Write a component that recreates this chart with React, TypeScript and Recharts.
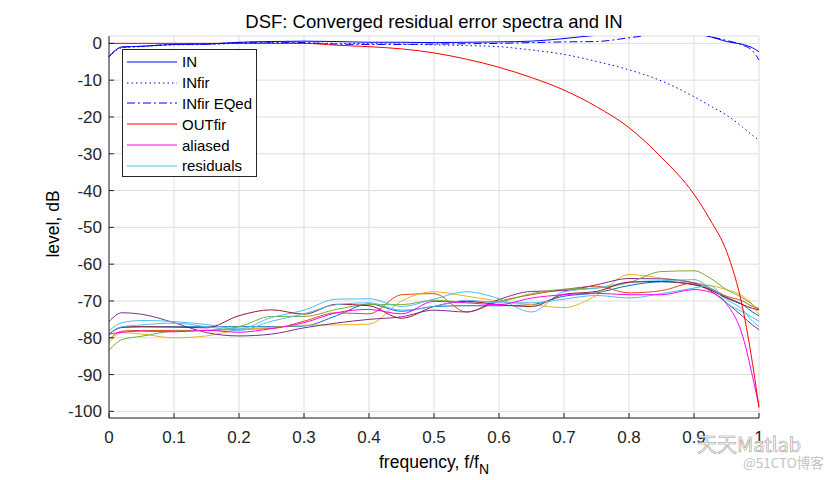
import React from 'react';
import { LineChart, Line, XAxis, YAxis, CartesianGrid, Legend, Label } from 'recharts';

// normalised frequency grid (f / fN)
const freq = [0, 0.02, 0.05, 0.1, 0.15, 0.2, 0.25, 0.3, 0.35, 0.4, 0.45, 0.5, 0.55, 0.6, 0.65, 0.7, 0.75, 0.8, 0.85, 0.9, 0.925, 0.95, 0.975, 0.99, 1];

// levels in dB
const inLevel = [-3.6, -1, -0.8, -0.3, -0.2, 0.3, 0.5, 0.6, 0.5, 0.3, 0.3, 0.2, 0.3, 0.4, 0.6, 1.3, 2.2, 2.5, 2.5, 2.5, 1.8, 0.5, -0.3, -1.2, -2.3];
const inFir = [-3.6, -1.2, -0.9, -0.4, -0.3, 0, 0.1, 0.1, 0, -0.1, -0.2, -0.4, -0.6, -0.9, -1.8, -3, -4.9, -7.2, -10.2, -14.5, -17, -19.5, -22.8, -25, -26.3];
const inFirEq = [-3.6, -1, -0.8, -0.3, -0.2, 0.2, 0.3, 0.2, -0.2, -0.3, -0.3, -0.2, -0.1, 0, 0.2, 0.4, 0.5, 1.5, 2.5, 2.5, 1.8, 0.8, -0.5, -2, -4.5];
const outFir = [0, 0, 0, 0, 0, 0, 0, 0, -0.5, -0.9, -1.5, -2.6, -4.3, -6.5, -9.3, -12.7, -17.2, -22.9, -31, -41, -48, -56.5, -72, -87, -99];
const aliased = [-79, -78.5, -78.2, -78.4, -78, -78.5, -77.5, -75.9, -73.2, -72.3, -73.5, -70.1, -70.5, -71, -69.2, -68.3, -67.9, -68.3, -68.3, -66.9, -67.6, -70.8, -79.6, -90.5, -98.6];

// residual error spectra, one per converged run
const resBlue = [-79, -77.2, -77, -77, -77, -77, -77, -76.8, -74, -70.8, -72.8, -71.5, -71.3, -71.3, -71, -68.7, -67.8, -65.8, -64.8, -65.5, -66.8, -69, -71, -73, -74];
const resOrange = [-80.5, -78.2, -78, -78, -78, -77.7, -77.5, -75.5, -73.2, -73.5, -68.3, -68, -73, -70.1, -68.3, -66.9, -66, -67.8, -67.2, -65.1, -66.5, -68.7, -70, -71.5, -72];
const resYellow = [-81.4, -78.6, -79, -80, -79.5, -77.8, -77.2, -76.6, -76.5, -76.3, -70, -67.5, -68.7, -70, -71, -71.8, -68.5, -62.8, -63.8, -65.1, -65.8, -66.9, -68.7, -71, -73.7];
const resPurple = [-75.6, -73.2, -73.6, -75.9, -78.6, -79.5, -79, -77.3, -76, -75, -74.3, -72.5, -73, -69.6, -67.4, -67.2, -65.6, -63.9, -64, -65.1, -67.2, -70.5, -74.2, -76.5, -77.8];
const resGreen = [-83.4, -80.5, -79.6, -78.2, -78, -77, -74.2, -74.2, -72.3, -71, -71, -69.8, -70.3, -70.1, -68, -66.8, -66.5, -65, -62, -61.8, -63.8, -66.9, -69.2, -71, -72.4];
const resCyan = [-78.1, -75.9, -75.3, -75.6, -76.4, -77.6, -74.5, -72.5, -69.5, -69.4, -71.5, -69.5, -67.5, -69.4, -73, -67.5, -66.5, -64.9, -64.5, -64.2, -66.5, -69.6, -72.4, -75.5, -76.9];
const resDarkRed = [-79, -77.1, -77, -77.1, -77.3, -74, -72.4, -73.6, -70.9, -71.3, -74.7, -71.5, -70.1, -71, -71.5, -68.2, -67.4, -64.9, -64.7, -65.6, -67, -69.2, -71, -72, -72.4];
const resLightBlue = [-79, -77, -76.5, -76, -77, -78, -75.5, -73.5, -71, -70.5, -72.5, -71.5, -69.8, -70.5, -70.5, -69.5, -68.5, -69.2, -68, -66.5, -65.8, -70.5, -73, -74.5, -75.5];

const xTicks = [0, 0.1, 0.2, 0.3, 0.4, 0.5, 0.6, 0.7, 0.8, 0.9, 1];
const yTicks = [0, -10, -20, -30, -40, -50, -60, -70, -80, -90, -100];

const residuals = [
  { key: 'r1', color: '#0072BD', values: resBlue },
  { key: 'r2', color: '#D95319', values: resOrange },
  { key: 'r3', color: '#EDB120', values: resYellow },
  { key: 'r4', color: '#7E2F8E', values: resPurple },
  { key: 'r5', color: '#77AC30', values: resGreen },
  { key: 'r6', color: '#4DBEEE', values: resCyan },
  { key: 'r7', color: '#A2142F', values: resDarkRed },
  { key: 'r8', color: '#4DBEEE', values: resLightBlue },
];

const data = freq.map((f, i) => {
  const row: Record<string, number> = {
    f,
    IN: inLevel[i],
    INfir: inFir[i],
    INfirEq: inFirEq[i],
    OUTfir: outFir[i],
    aliased: aliased[i],
  };
  residuals.forEach((r) => {
    row[r.key] = r.values[i];
  });
  return row;
});

const legendItems = [
  { label: 'IN', color: '#0000FF', dash: undefined },
  { label: 'INfir', color: '#0000FF', dash: '1.5 3' },
  { label: 'INfir EQed', color: '#0000FF', dash: '8 3 2 3' },
  { label: 'OUTfir', color: '#FF0000', dash: undefined },
  { label: 'aliased', color: '#FF00FF', dash: undefined },
  { label: 'residuals', color: '#4DBEEE', dash: undefined },
];

const FONT = '"Liberation Sans", Arial, Helvetica, sans-serif';
const AXIS = '#262626';

const renderLegend = () => (
  <div
    style={{
      width: 135,
      height: 128,
      boxSizing: 'border-box',
      border: `1px solid ${AXIS}`,
      background: '#fff',
      paddingTop: 1.5,
      fontFamily: FONT,
      fontSize: 15,
      color: '#000',
    }}
  >
    {legendItems.map((it) => (
      <div key={it.label} style={{ height: 20.8, display: 'flex', alignItems: 'center' }}>
        <svg width={59} height={10} style={{ flex: 'none' }}>
          <line x1={4} x2={54} y1={5} y2={5} stroke={it.color} strokeWidth={1} strokeDasharray={it.dash} />
        </svg>
        <span style={{ lineHeight: '17px' }}>{it.label}</span>
      </div>
    ))}
  </div>
);

const XLabel = () => (
  <text x={434} y={468} textAnchor="middle" fontSize={17.5} fill="#000" fontFamily={FONT}>
    frequency, f/f
    <tspan dy={6} fontSize={14}>N</tspan>
  </text>
);

const YLabel = () => (
  <text
    x={59}
    y={224}
    transform="rotate(-90, 59, 224)"
    textAnchor="middle"
    fontSize={17.5}
    fill="#000"
    fontFamily={FONT}
  >
    level, dB
  </text>
);

export default function App() {
  const tickStyle = { fill: AXIS, fontSize: 17, fontFamily: FONT };
  return (
    <div style={{ position: 'absolute', left: 0, top: 0, width: 840, height: 480, background: '#fff', fontFamily: FONT }}>
      <div
        style={{
          position: 'absolute',
          left: 109,
          width: 650,
          top: 11,
          textAlign: 'center',
          fontSize: 18.5,
          color: '#000',
        }}
      >
        DSF: Converged residual error spectra and IN
      </div>
      <LineChart width={840} height={480} data={data} margin={{ top: 36, right: 81, bottom: 32, left: 49 }}>
        <CartesianGrid stroke="#dedede" strokeWidth={1} xAxisId="b" yAxisId="l" />
        <XAxis
          xAxisId="b"
          dataKey="f"
          type="number"
          domain={[0, 1]}
          ticks={xTicks}
          tickFormatter={(v: number) => String(v)}
          height={30}
          stroke={AXIS}
          tick={tickStyle}
          tickSize={-5}
          tickMargin={18}
          interval={0}
        >
          <Label content={<XLabel />} />
        </XAxis>
        <XAxis
          xAxisId="t"
          dataKey="f"
          type="number"
          orientation="top"
          domain={[0, 1]}
          ticks={xTicks}
          height={0}
          stroke={AXIS}
          tick={false}
          tickSize={-5}
        />
        <YAxis
          yAxisId="l"
          type="number"
          domain={[-101.8, 2]}
          allowDataOverflow
          ticks={yTicks}
          width={60}
          stroke={AXIS}
          tick={tickStyle}
          tickSize={-5}
          tickMargin={12}
          interval={0}
        >
          <Label content={<YLabel />} />
        </YAxis>
        <YAxis
          yAxisId="r"
          type="number"
          orientation="right"
          domain={[-101.8, 2]}
          allowDataOverflow
          ticks={yTicks}
          width={0}
          stroke={AXIS}
          tick={false}
          tickSize={-5}
        />
        <Legend
          content={renderLegend}
          layout="vertical"
          align="center"
          verticalAlign="middle"
          wrapperStyle={{ left: 122, top: 49, width: 135, height: 128 }}
        />
        {residuals.map((r) => (
          <Line
            key={r.key}
            xAxisId="b"
            yAxisId="l"
            dataKey={r.key}
            type="monotone"
            stroke={r.color}
            strokeWidth={1}
            dot={false}
            isAnimationActive={false}
          />
        ))}
        <Line xAxisId="b" yAxisId="l" dataKey="aliased" type="monotone" stroke="#FF00FF" strokeWidth={1} dot={false} isAnimationActive={false} />
        <Line xAxisId="b" yAxisId="l" dataKey="OUTfir" type="monotone" stroke="#FF0000" strokeWidth={1} dot={false} isAnimationActive={false} />
        <Line xAxisId="b" yAxisId="l" dataKey="INfir" type="monotone" stroke="#0000FF" strokeWidth={1} strokeDasharray="1.5 3" dot={false} isAnimationActive={false} />
        <Line xAxisId="b" yAxisId="l" dataKey="INfirEq" type="monotone" stroke="#0000FF" strokeWidth={1} strokeDasharray="8 3 2 3" dot={false} isAnimationActive={false} />
        <Line xAxisId="b" yAxisId="l" dataKey="IN" type="monotone" stroke="#0000FF" strokeWidth={1} dot={false} isAnimationActive={false} />
      </LineChart>
      <div
        style={{
          position: 'absolute',
          left: 697,
          top: 429,
          fontSize: 20,
          fontFamily: '"Noto Sans CJK SC", "Liberation Sans", sans-serif',
          color: '#fff',
          WebkitTextStroke: '0.6px #9a9a9a',
        }}
      >
        天天Matlab
      </div>
      <div
        style={{
          position: 'absolute',
          left: 743,
          top: 452,
          fontSize: 13.5,
          fontFamily: '"Noto Sans CJK SC", "Liberation Sans", sans-serif',
          color: '#c4c4c4',
        }}
      >
        @51CTO博客
      </div>
    </div>
  );
}
